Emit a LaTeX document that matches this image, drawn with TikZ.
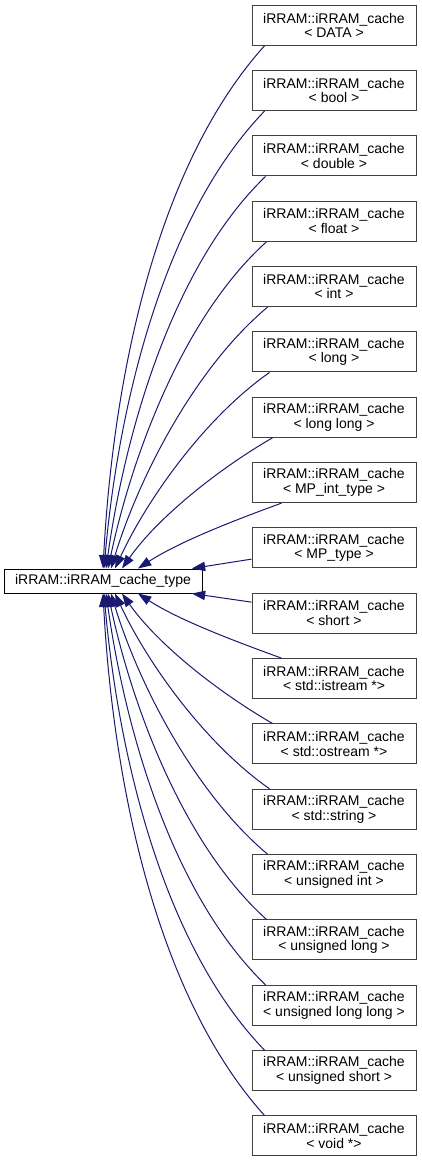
\documentclass[tikz,border=0pt]{standalone}
\usepackage{fontspec}
\setmainfont{Liberation Sans}
\usepackage{xcolor}
\usepackage{tikz}
\usetikzlibrary{arrows.meta, positioning}
\definecolor{edgeblue}{HTML}{191970}

\begin{document}
\begin{tikzpicture}[
    x=0.75pt, y=0.75pt,
    cls/.style={draw=black!75, line width=0.75pt, rectangle, minimum width=123pt, minimum height=30pt, inner xsep=8pt, inner ysep=2pt, align=center, font=\fontsize{10.5}{11}\selectfont},
    basecls/.style={draw=black, line width=0.75pt, rectangle, minimum width=148.5pt, minimum height=18pt, font=\fontsize{10.5}{11}\selectfont},
    edge/.style={{Triangle[length=10pt,width=7pt]}-, color=edgeblue, line width=0.75pt}
]
    \useasboundingbox (0,0) rectangle (421,-1163);

    \node[basecls] (base) at (103,-581) {iRRAM::iRRAM\_cache\_type};

    % derived classes
    \node[cls] (cData) at (334,-25.3) {iRRAM::iRRAM\_cache\\< DATA >};
    \node[cls, below=18.25pt of cData] (cBool) {iRRAM::iRRAM\_cache\\< bool >};
    \node[cls, below=18.25pt of cBool] (cDouble) {iRRAM::iRRAM\_cache\\< double >};
    \node[cls, below=18.25pt of cDouble] (cFloat) {iRRAM::iRRAM\_cache\\< float >};
    \node[cls, below=18.25pt of cFloat] (cInt) {iRRAM::iRRAM\_cache\\< int >};
    \node[cls, below=18.25pt of cInt] (cLong) {iRRAM::iRRAM\_cache\\< long >};
    \node[cls, below=18.25pt of cLong] (cLongLong) {iRRAM::iRRAM\_cache\\< long long >};
    \node[cls, below=18.25pt of cLongLong] (cMPint) {iRRAM::iRRAM\_cache\\< MP\_int\_type >};
    \node[cls, below=18.25pt of cMPint] (cMPtype) {iRRAM::iRRAM\_cache\\< MP\_type >};
    \node[cls, below=18.25pt of cMPtype] (cShort) {iRRAM::iRRAM\_cache\\< short >};
    \node[cls, below=18.25pt of cShort] (cIstream) {iRRAM::iRRAM\_cache\\< std::istream *>};
    \node[cls, below=18.25pt of cIstream] (cOstream) {iRRAM::iRRAM\_cache\\< std::ostream *>};
    \node[cls, below=18.25pt of cOstream] (cString) {iRRAM::iRRAM\_cache\\< std::string >};
    \node[cls, below=18.25pt of cString] (cUInt) {iRRAM::iRRAM\_cache\\< unsigned int >};
    \node[cls, below=18.25pt of cUInt] (cULong) {iRRAM::iRRAM\_cache\\< unsigned long >};
    \node[cls, below=18.25pt of cULong] (cULongLong) {iRRAM::iRRAM\_cache\\< unsigned long long >};
    \node[cls, below=18.25pt of cULongLong] (cUShort) {iRRAM::iRRAM\_cache\\< unsigned short >};
    \node[cls, below=18.25pt of cUShort] (cVoid) {iRRAM::iRRAM\_cache\\< void *>};

    % upper edges
    \draw[edge] (base.north) to[out=87, in=228, looseness=0.8] ([xshift=9.75pt]cData.south west);
    \draw[edge] ([xshift=0.75pt]base.north) to[out=85, in=226, looseness=0.8] ([xshift=9.75pt]cBool.south west);
    \draw[edge] ([xshift=2.25pt]base.north) to[out=82, in=224, looseness=0.8] ([xshift=10.5pt]cDouble.south west);
    \draw[edge] ([xshift=3.75pt]base.north) to[out=78, in=222, looseness=0.8] ([xshift=11.25pt]cFloat.south west);
    \draw[edge] ([xshift=6pt]base.north) to[out=73, in=220, looseness=0.8] ([xshift=12pt]cInt.south west);
    \draw[edge] ([xshift=9pt]base.north) to[out=65, in=215, looseness=0.8] ([xshift=13.5pt]cLong.south west);
    \draw[edge] ([xshift=14.25pt]base.north) to[out=55, in=210, looseness=0.8] ([xshift=15.75pt]cLongLong.south west);
    \draw[edge] ([xshift=26.25pt]base.north) to[out=33, in=200, looseness=0.8] ([xshift=22.5pt]cMPint.south west);
    \draw[edge] ([xshift=-8pt]base.north east) -- ([yshift=7pt]cMPtype.south west);

    % lower edges
    \draw[edge] ([xshift=-8pt]base.south east) -- ([yshift=-7pt]cShort.north west);
    \draw[edge] ([xshift=26.25pt]base.south) to[out=-33, in=160, looseness=0.8] ([xshift=22.5pt]cIstream.north west);
    \draw[edge] ([xshift=14.25pt]base.south) to[out=-55, in=150, looseness=0.8] ([xshift=15.75pt]cOstream.north west);
    \draw[edge] ([xshift=9pt]base.south) to[out=-65, in=145, looseness=0.8] ([xshift=13.5pt]cString.north west);
    \draw[edge] ([xshift=6pt]base.south) to[out=-73, in=140, looseness=0.8] ([xshift=12pt]cUInt.north west);
    \draw[edge] ([xshift=3.75pt]base.south) to[out=-78, in=138, looseness=0.8] ([xshift=11.25pt]cULong.north west);
    \draw[edge] ([xshift=2.25pt]base.south) to[out=-82, in=136, looseness=0.8] ([xshift=10.5pt]cULongLong.north west);
    \draw[edge] ([xshift=0.75pt]base.south) to[out=-85, in=134, looseness=0.8] ([xshift=9.75pt]cUShort.north west);
    \draw[edge] (base.south) to[out=-87, in=132, looseness=0.8] ([xshift=9.75pt]cVoid.north west);
\end{tikzpicture}
\end{document}
